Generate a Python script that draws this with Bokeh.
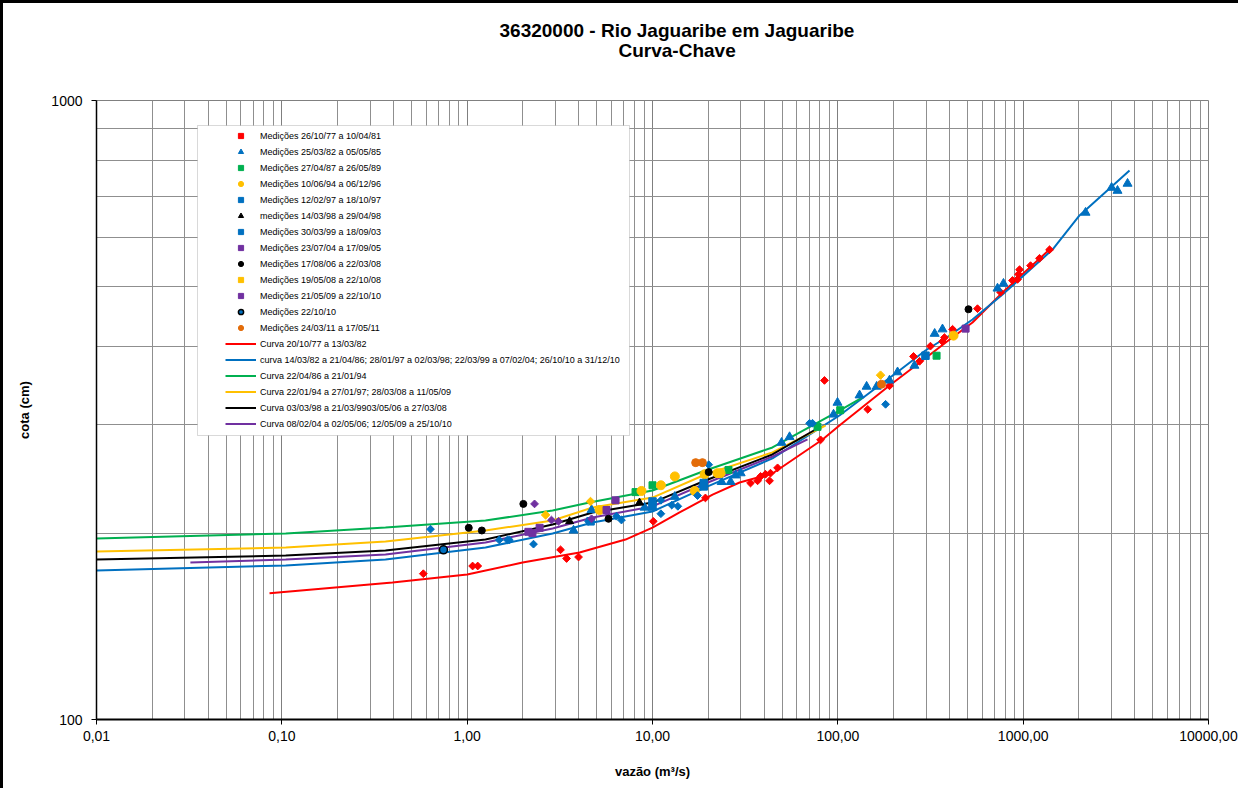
from bokeh.plotting import figure
from bokeh.models import (Legend, LegendItem, BoxAnnotation, CustomJSTickFormatter,
                          FixedTicker, Range1d, Title)
from bokeh.embed import file_html
from bokeh.resources import INLINE

FONT = "Liberation Sans"

# ---------------- measurement series (vazão m3/s, cota cm) ----------------
med_77_81_q = [0.58, 1.07, 1.14, 3.19, 3.44, 3.99, 10.1, 19.3, 33.8, 36.9, 38.3, 40.7, 42.8, 43.3, 47.3,
               80.7, 84.7, 145, 190, 256, 276, 316, 367, 376, 416, 567, 755, 876, 932, 956, 944,
               1096, 1225, 1388]
med_77_81_h = [172, 177, 177, 188, 182, 183, 209, 228, 241, 243, 247, 249, 243, 250, 255,
               283, 353, 317, 346, 386, 379, 401, 408, 414, 427, 461, 490, 512, 514, 533, 524,
               541, 556, 574]

med_82_85_q = [3.75, 4.69, 9.06, 10.0, 13.2, 18.6, 23.6, 26.4, 28.1, 29.9, 49.7, 54.9, 94.8, 99.6,
               131, 143, 162, 190, 210, 259, 333, 367, 727, 783, 2170, 3000, 3229, 3658]
med_82_85_h = [202, 218, 220, 220, 229, 239, 242, 242, 248, 250, 280, 286, 311, 325,
               334, 345, 345, 353, 364, 373, 420, 427, 497, 506, 659, 723, 715, 734]

med_87_89_q = [8.1, 10.0, 25.7, 77.7, 103, 341]
med_87_89_h = [233, 239, 253, 297, 316, 387]

med_94_96_q = [5.18, 8.72, 11.1, 13.2, 16.9, 19.1, 22.4, 23.3, 421]
med_94_96_h = [218, 234, 239, 247, 234, 249, 250, 250, 417]

med_97_q = [4.63, 10.0, 10.0, 18.9, 18.9, 297]
med_97_h = [209, 225, 221, 241, 238, 387]

med_98_q = [3.57, 8.51]
med_98_h = [209, 224]

med_99_03_q = [0.634, 1.49, 1.65, 1.69, 2.28, 4.51, 6.39, 6.80, 11.1, 11.1, 12.7, 13.7, 17.5, 20.1,
               70.4, 73.0, 181]
med_99_03_h = [203, 195, 195, 195, 192, 209, 213, 210, 215, 226, 222, 221, 230, 258,
               301, 301, 323]

med_04_05_q = [2.31, 2.85, 3.11, 4.69]
med_04_05_h = [223, 210, 209, 211]

med_06_08_q = [1.02, 1.20, 2.01, 5.79, 20.1, 507]
med_06_08_h = [204, 202, 223, 211, 251, 460]

med_08_q = [2.65, 4.63, 170]
med_08_h = [214, 225, 360]

med_09_10_q = [2.14, 2.25, 2.46, 5.65, 6.32, 489]
med_09_10_h = [201, 200, 204, 218, 226, 428]

med_2210_q = [0.745]
med_2210_h = [188]

med_11_q = [17.1, 18.6, 172]
med_11_h = [260, 260, 348]

# ---------------- rating curves ----------------
curva_77_82_q = [0.0858, 0.3955, 1.00, 1.99, 4.04, 7.15, 10.0, 14.0, 21.1, 29.5, 44.4, 82.7, 102,
                 190, 286, 401, 533, 774, 1388]
curva_77_82_h = [160, 166.5, 171.5, 179.3, 186.1, 195.3, 204.2, 216, 230.9, 241.5, 249.7, 283.4,
                 298.5, 346.4, 380.2, 411.1, 438, 489.6, 574.5]

curva_82_10_q = [0.01, 0.105, 0.3625, 1.256, 2.89, 4.75, 10.0, 19.3, 44.4, 102, 154, 215, 297,
                 401, 533, 774, 1440, 2014, 3749]
curva_82_10_h = [174.1, 177.4, 181.3, 189.6, 199.8, 208.1, 216.8, 237.1, 264.1, 309.8, 340.1,
                 366.3, 394.6, 417.2, 442.8, 486.0, 574.4, 652.0, 770.6]

curva_86_94_q = [0.01, 0.105, 0.3625, 1.256, 2.89, 4.57, 10.0, 19.3, 44.4, 102, 136]
curva_86_94_h = [196.0, 199.8, 204.3, 209.6, 217.6, 224.1, 234.4, 252.5, 275.1, 315.6, 331.3]

curva_94_09_q = [0.01, 0.105, 0.3625, 1.256, 2.89, 4.75, 10.0, 19.3, 44.4, 85.8]
curva_94_09_h = [186.8, 189.6, 193.9, 202.0, 209.6, 220.0, 228.3, 248.8, 270.1, 298.5]

curva_98_08_q = [0.01, 0.105, 0.3625, 1.256, 2.89, 4.75, 10.0, 19.3, 44.4, 75.8]
curva_98_08_h = [181.3, 184.0, 187.5, 195.4, 206.5, 216.0, 224.1, 243.3, 268.0, 294.1]

curva_04_10_q = [0.0321, 0.105, 0.3625, 1.256, 2.89, 4.75, 10.0, 19.3, 44.4, 68.6]
curva_04_10_h = [179.3, 181.3, 184.7, 193.2, 203.5, 212.0, 220.9, 240.6, 266.0, 283.4]

x_ticks = [0.01, 0.1, 1, 10, 100, 1000, 10000]
y_ticks = [100, 1000]

title_main = "36320000 - Rio Jaguaribe em Jaguaribe"
title_sub = "Curva-Chave"

RED = "#FF0000"
BLUE = "#0070C0"
GREEN = "#00B050"
YELLOW = "#FFC000"
PURPLE = "#7030A0"
ORANGE = "#E36C09"
BLACK = "#000000"

p = figure(width=1238, height=788, x_axis_type="log", y_axis_type="log",
           x_range=Range1d(0.01, 10000), y_range=Range1d(100, 1000),
           output_backend="svg", toolbar_location=None,
           min_border_left=93, min_border_right=33, min_border_top=97, min_border_bottom=72)
p.styles = {"border-left": "3px solid black", "border-top": "3px solid black"}
p.background_fill_color = "white"
p.border_fill_color = "white"
p.outline_line_color = "#808080"
p.outline_line_width = 1

TITLE_STYLE = dict(text_font=FONT, text_font_size="19px", text_font_style="bold",
                   text_color="black", text_line_height=1.0)
p.title.text = title_main
p.title.align = "left"
p.title.offset = 403
p.title.standoff = 0
for k, v in TITLE_STYLE.items():
    setattr(p.title, k, v)

spacer = Title(text=" ", align="left", standoff=20, **TITLE_STYLE)
sub = Title(text=title_sub, align="left", offset=522, standoff=-6, **TITLE_STYLE)
p.add_layout(spacer, "above")
p.add_layout(sub, "above")

# ticks / grids
minor_x = [m * 10.0 ** e for e in range(-2, 4) for m in range(2, 10)]
minor_y = [m * 100 for m in range(2, 10)]
p.xaxis.ticker = FixedTicker(ticks=x_ticks, minor_ticks=minor_x)
p.yaxis.ticker = FixedTicker(ticks=y_ticks, minor_ticks=minor_y)
p.xaxis.formatter = CustomJSTickFormatter(code="return tick.toFixed(2).replace('.', ',');")
p.yaxis.formatter = CustomJSTickFormatter(code="return tick.toFixed(0);")

for g in (p.xgrid, p.ygrid):
    g.grid_line_color = "#7f7f7f"
    g.grid_line_width = 1
    g.minor_grid_line_color = "#8f8f8f"
    g.minor_grid_line_width = 1

for ax in (p.xaxis, p.yaxis):
    ax.axis_line_color = "black"
    ax.major_tick_line_color = "black"
    ax.major_tick_out = 5
    ax.major_tick_in = 0
    ax.minor_tick_line_color = None
    ax.major_label_text_font = FONT
    ax.major_label_text_font_size = "14px"
    ax.major_label_text_color = "black"
    ax.axis_label_text_font = FONT
    ax.axis_label_text_font_size = "13px"
    ax.axis_label_text_font_style = "bold"
    ax.axis_label_text_color = "black"
p.xaxis.axis_line_width = 2
p.yaxis.axis_line_width = 1.5
p.xaxis.major_label_standoff = 6
p.yaxis.major_label_standoff = 9
p.xaxis.axis_label = "vazão (m³/s)"
p.yaxis.axis_label = "cota (cm)"
p.xaxis.axis_label_standoff = 20
p.yaxis.axis_label_standoff = 16

# curves
curves = [
    ("Curva 20/10/77 a 13/03/82", curva_77_82_q, curva_77_82_h, RED),
    ("curva 14/03/82 a 21/04/86; 28/01/97 a 02/03/98; 22/03/99 a 07/02/04; 26/10/10 a 31/12/10",
     curva_82_10_q, curva_82_10_h, BLUE),
    ("Curva 22/04/86 a 21/01/94", curva_86_94_q, curva_86_94_h, GREEN),
    ("Curva 22/01/94 a 27/01/97; 28/03/08 a 11/05/09", curva_94_09_q, curva_94_09_h, YELLOW),
    ("Curva 03/03/98 a 21/03/9903/05/06 a 27/03/08", curva_98_08_q, curva_98_08_h, BLACK),
    ("Curva 08/02/04 a 02/05/06; 12/05/09 a 25/10/10", curva_04_10_q, curva_04_10_h, PURPLE),
]
line_items = []
for label, q, h, c in curves:
    r = p.line(q, h, line_color=c, line_width=2)
    line_items.append(LegendItem(label=label, renderers=[r]))

ROT = 0.785398
series = [
    ("Medições 26/10/77 a 10/04/81", med_77_81_q, med_77_81_h, "square", 5.5, RED, RED, ROT),
    ("Medições 25/03/82 a 05/05/85", med_82_85_q, med_82_85_h, "triangle", 9, BLUE, BLUE, 0),
    ("Medições 27/04/87 a 26/05/89", med_87_89_q, med_87_89_h, "square", 7, GREEN, GREEN, 0),
    ("Medições 10/06/94 a 06/12/96", med_94_96_q, med_94_96_h, "circle", 9, YELLOW, YELLOW, 0),
    ("Medições 12/02/97 a 18/10/97", med_97_q, med_97_h, "square", 7.5, BLUE, BLUE, 0),
    ("medições 14/03/98 a 29/04/98", med_98_q, med_98_h, "triangle", 8, BLACK, BLACK, 0),
    ("Medições 30/03/99 a 18/09/03", med_99_03_q, med_99_03_h, "square", 5.5, BLUE, BLUE, ROT),
    ("Medições 23/07/04 a 17/09/05", med_04_05_q, med_04_05_h, "square", 5.5, PURPLE, PURPLE, ROT),
    ("Medições 17/08/06 a 22/03/08", med_06_08_q, med_06_08_h, "circle", 7, BLACK, BLACK, 0),
    ("Medições 19/05/08 a 22/10/08", med_08_q, med_08_h, "square", 6, YELLOW, YELLOW, ROT),
    ("Medições 21/05/09 a 22/10/10", med_09_10_q, med_09_10_h, "square", 7, PURPLE, PURPLE, 0),
    ("Medições 22/10/10", med_2210_q, med_2210_h, "circle", 8, BLUE, BLACK, 0),
    ("Medições 24/03/11 a 17/05/11", med_11_q, med_11_h, "circle", 8, ORANGE, ORANGE, 0),
]
point_items = []
for label, q, h, m, s, fc, lc, ang in series:
    r = p.scatter(q, h, marker=m, size=s, fill_color=fc, line_color=lc,
                  line_width=1.5 if lc != fc else 1, angle=ang)
    point_items.append(LegendItem(label=label, renderers=[r]))

box = BoxAnnotation(left=101, right=533, bottom=284, top=594,
                    left_units="screen", right_units="screen",
                    bottom_units="screen", top_units="screen",
                    fill_color="white", fill_alpha=1.0,
                    line_color="#808080", line_width=1)
p.add_layout(box)

legend = Legend(items=point_items + line_items, location=(129, 289),
                label_text_font=FONT, label_text_font_size="9px", label_text_color="black",
                glyph_width=31, glyph_height=13, label_height=13, spacing=3,
                label_standoff=4, padding=0, margin=0,
                border_line_color=None, background_fill_alpha=0)
p.add_layout(legend)

open("out.html", "w").write(file_html(p, INLINE))
